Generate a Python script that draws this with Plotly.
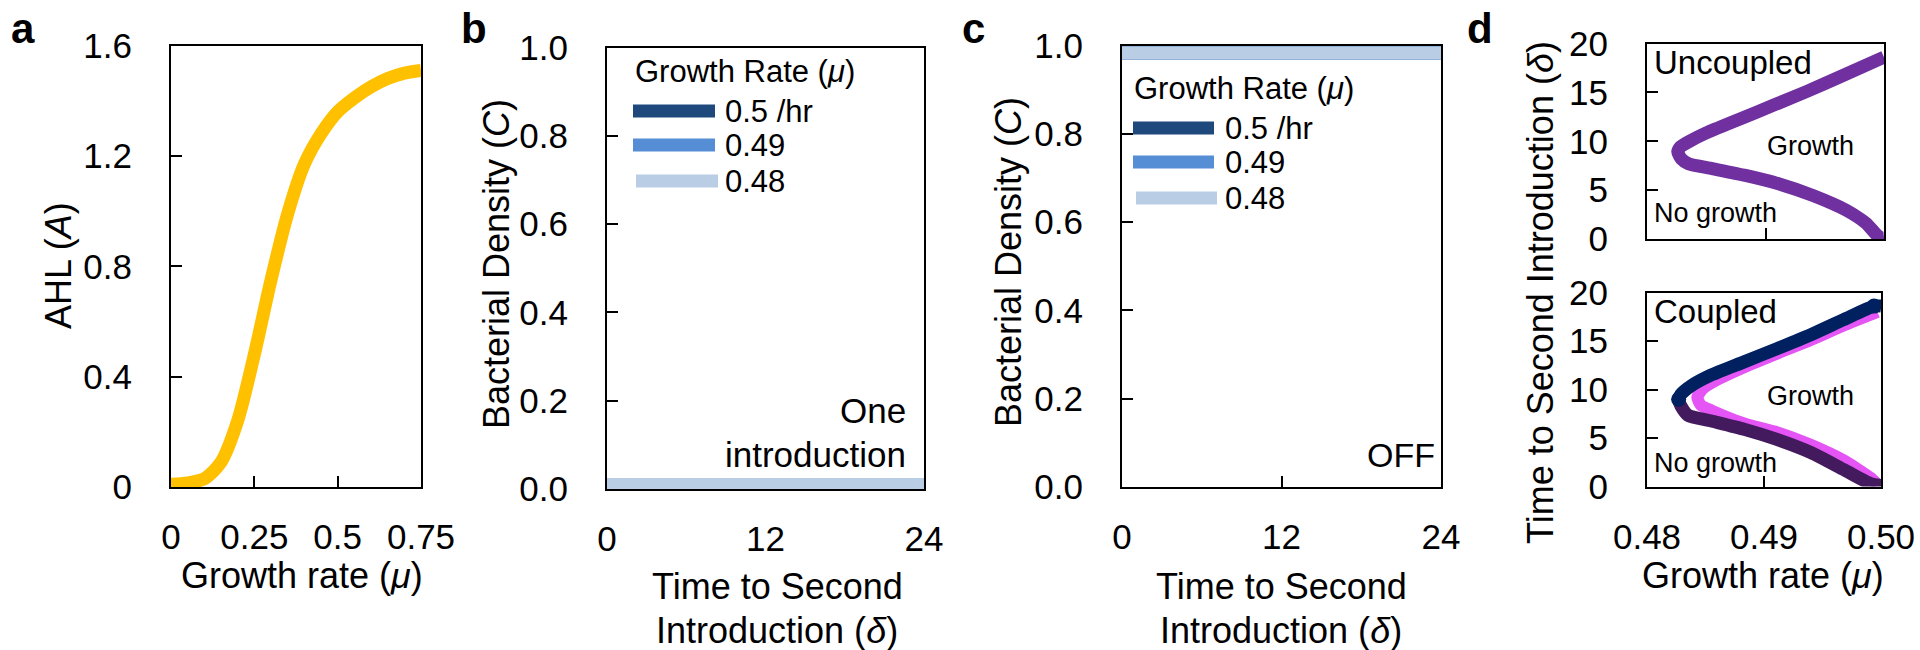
import plotly.graph_objects as go

FONT = "Arial, 'Liberation Sans', Helvetica, sans-serif"
W, H = 1920, 650

# ---------------- data ----------------
# panel a: AHL vs growth rate
mu_a = [0, 0.05, 0.1, 0.15, 0.2, 0.25, 0.3, 0.35, 0.4, 0.45, 0.5, 0.55, 0.6, 0.65, 0.7, 0.75]
ahl_a = [0.01, 0.015, 0.03, 0.09, 0.24, 0.48, 0.75, 0.99, 1.17, 1.28, 1.36, 1.41, 1.45, 1.48, 1.50, 1.51]

# panels b, c: bacterial density vs time to second introduction
delta_bc = [0, 6, 12, 18, 24]
growth_labels = ["0.5 /hr", "0.49", "0.48"]
growth_colors = ["#1F497D", "#558ED5", "#B9CDE5"]
density_b = {
    "0.5 /hr": [0.01, 0.01, 0.01, 0.01, 0.01],
    "0.49": [0.01, 0.01, 0.01, 0.01, 0.01],
    "0.48": [0.01, 0.01, 0.01, 0.01, 0.01],
}
density_c = {
    "0.5 /hr": [0.983, 0.983, 0.983, 0.983, 0.983],
    "0.49": [0.983, 0.983, 0.983, 0.983, 0.983],
    "0.48": [0.983, 0.983, 0.983, 0.983, 0.983],
}

# panel d: boundary curves (growth rate, time to second introduction)
unc_mu = [0.5000, 0.4963, 0.4935, 0.4907, 0.4879, 0.4850, 0.4836, 0.4828, 0.4826, 0.4829,
          0.4835, 0.4855, 0.4883, 0.4911, 0.4940, 0.4968, 0.4985, 0.4994, 0.4998, 0.5000]
unc_delta = [18.6, 16.6, 15.1, 13.7, 12.3, 10.85, 10.0, 9.4, 8.9, 8.2,
             7.7, 7.2, 6.5, 5.65, 4.45, 2.95, 1.6, 0.4, 0.1, 0.1]

cpl_mag_mu = [0.4997, 0.4968, 0.4940, 0.4911, 0.4883, 0.4860, 0.4848, 0.4843, 0.4846, 0.4855,
              0.4883, 0.4911, 0.4940, 0.4968, 0.4991, 0.4997]
cpl_mag_delta = [18.0, 16.6, 15.1, 13.7, 12.3, 11.0, 10.1, 9.2, 8.4, 7.85,
                 6.5, 5.6, 4.3, 2.7, 0.9, 0.2]

cpl_up_mu = [0.5000, 0.4994, 0.4968, 0.4940, 0.4911, 0.4883, 0.4855, 0.4838, 0.4829, 0.4827]
cpl_up_delta = [18.6, 18.6, 17.2, 15.65, 14.2, 12.85, 11.5, 10.4, 9.5, 9.0]

cpl_lo_mu = [0.4827, 0.4829, 0.4835, 0.4855, 0.4883, 0.4911, 0.4940, 0.4968, 0.4991, 0.5000]
cpl_lo_delta = [8.9, 8.3, 7.35, 6.75, 5.9, 4.85, 3.5, 1.75, 0.3, 0.1]

# tick labels
a_xticks = [0, 0.25, 0.5, 0.75]
a_xtext = ["0", "0.25", "0.5", "0.75"]
a_yticks = [0, 0.4, 0.8, 1.2, 1.6]
a_ytext = ["0", "0.4", "0.8", "1.2", "1.6"]
bc_xticks = [0, 12, 24]
bc_yticks = [0, 0.2, 0.4, 0.6, 0.8, 1.0]
bc_ytext = ["0.0", "0.2", "0.4", "0.6", "0.8", "1.0"]
d_xticks = [0.48, 0.49, 0.50]
d_xtext = ["0.48", "0.49", "0.50"]
d_yticks = [0, 5, 10, 15, 20]


def X(px):
    return px / W


def Y(py):
    return 1 - py / H


fig = go.Figure()

# panel a
fig.add_trace(go.Scatter(x=mu_a, y=ahl_a, mode="lines", line=dict(color="#FFC000", width=13, shape="spline", smoothing=0.8),
                         xaxis="x", yaxis="y", showlegend=False))
# panel b
for lab, col in zip(growth_labels, growth_colors):
    fig.add_trace(go.Scatter(x=delta_bc, y=density_b[lab], mode="lines", line=dict(color=col, width=13),
                             xaxis="x2", yaxis="y2", showlegend=False))
# panel c
for lab, col in zip(growth_labels, growth_colors):
    fig.add_trace(go.Scatter(x=delta_bc, y=density_c[lab], mode="lines", line=dict(color=col, width=13),
                             xaxis="x3", yaxis="y3", showlegend=False))
# panel d top (uncoupled)
fig.add_trace(go.Scatter(x=unc_mu, y=unc_delta, mode="lines", line=dict(color="#7030A0", width=13, shape="spline", smoothing=0.6),
                         xaxis="x4", yaxis="y4", showlegend=False))
# panel d bottom (coupled)
fig.add_trace(go.Scatter(x=cpl_mag_mu, y=cpl_mag_delta, mode="lines", line=dict(color="#E555F5", width=12, shape="spline", smoothing=0.6),
                         xaxis="x5", yaxis="y5", showlegend=False))
fig.add_trace(go.Scatter(x=cpl_lo_mu, y=cpl_lo_delta, mode="lines", line=dict(color="#431A5E", width=13, shape="spline", smoothing=0.6),
                         xaxis="x5", yaxis="y5", showlegend=False))
fig.add_trace(go.Scatter(x=cpl_up_mu, y=cpl_up_delta, mode="lines", line=dict(color="#002060", width=13, shape="spline", smoothing=0.6),
                         xaxis="x5", yaxis="y5", showlegend=False))
fig.add_trace(go.Scatter(x=[cpl_up_mu[1], cpl_up_mu[-1]], y=[cpl_up_delta[1], cpl_up_delta[-1]], mode="markers",
                         marker=dict(color="#002060", size=15), cliponaxis=False,
                         xaxis="x5", yaxis="y5", showlegend=False))

TICKFONT = dict(family=FONT, size=35, color="black")


def axis(domain, rng, tickvals, ticktext=None, anchor=None, labels=True, standoff=0, **kw):
    d = dict(domain=domain, range=rng, tickvals=tickvals, showline=True, linecolor="black", linewidth=2,
             mirror=True, ticks="inside", ticklen=11, tickwidth=2, tickcolor="black", showgrid=False,
             zeroline=False, tickfont=TICKFONT, layer="below traces", fixedrange=True, automargin=False,
             showticklabels=labels, anchor=anchor, ticklabelstandoff=standoff)
    if ticktext is not None:
        d["ticktext"] = ticktext
    d.update(kw)
    return d


XS, YS = 18, 30
layout = dict(
    width=W, height=H, margin=dict(l=0, r=0, t=0, b=0, pad=0, autoexpand=False),
    paper_bgcolor="white", plot_bgcolor="white",
    font=dict(family=FONT, color="black"),
    xaxis=axis([X(171), X(421)], [0, 0.75], a_xticks, a_xtext, anchor="y", standoff=XS),
    yaxis=axis([Y(487), Y(45.5)], [0, 1.6], a_yticks, a_ytext, anchor="x", standoff=YS),
    xaxis2=axis([X(607), X(924)], [0, 24], bc_xticks, anchor="y2", standoff=XS),
    yaxis2=axis([Y(489), Y(47.5)], [0, 1], bc_yticks, bc_ytext, anchor="x2", standoff=YS),
    xaxis3=axis([X(1122), X(1441)], [0, 24], bc_xticks, anchor="y3", standoff=XS),
    yaxis3=axis([Y(487), Y(45.5)], [0, 1], bc_yticks, bc_ytext, anchor="x3", standoff=YS),
    xaxis4=axis([X(1647), X(1884)], [0.48, 0.50], d_xticks, d_xtext, anchor="y4", labels=False),
    yaxis4=axis([Y(239), Y(43.5)], [0, 20], d_yticks, anchor="x4", standoff=YS),
    xaxis5=axis([X(1647), X(1881)], [0.48, 0.50], d_xticks, d_xtext, anchor="y5", standoff=XS),
    yaxis5=axis([Y(486.5), Y(292.5)], [0, 20], d_yticks, anchor="x5", standoff=YS),
)
fig.update_layout(**layout)

ann = []


def text(s, x, y, size, xanchor="center", yanchor="middle", angle=0, bold=False):
    ann.append(dict(text=(f"<b>{s}</b>" if bold else s), x=X(x), y=Y(y), xref="paper", yref="paper",
                    xanchor=xanchor, yanchor=yanchor, showarrow=False, textangle=angle,
                    font=dict(family=FONT, size=size, color="black")))


# panel letters
text("a", 9, 28, 42, xanchor="left", bold=True)
text("b", 459, 28, 42, xanchor="left", bold=True)
text("c", 960, 28, 42, xanchor="left", bold=True)
text("d", 1465, 28, 42, xanchor="left", bold=True)

# axis titles
text("AHL (<i>A</i>)", 58, 266, 36, angle=-90)
text("Growth rate (<i>μ</i>)", 302, 575, 36)
text("Bacterial Density (<i>C</i>)", 497, 264, 36, angle=-90)
text("Time to Second", 777, 586, 36)
text("Introduction (<i>δ</i>)", 777, 630, 36)
text("Bacterial Density (<i>C</i>)", 1008, 262, 36, angle=-90)
text("Time to Second", 1281, 586, 36)
text("Introduction (<i>δ</i>)", 1281, 630, 36)
text("Time to Second Introduction (<i>δ</i>)", 1540, 293, 36, angle=-90)
text("Growth rate (<i>μ</i>)", 1763, 575, 36)

# in-panel annotations
text("One", 908, 410, 35, xanchor="right")
text("introduction", 908, 454, 35, xanchor="right")
text("OFF", 1437, 455, 34, xanchor="right")
text("Uncoupled", 1652, 63, 33, xanchor="left")
text("Growth", 1810, 146, 27)
text("No growth", 1652, 213, 27, xanchor="left")
text("Coupled", 1652, 311, 33, xanchor="left")
text("Growth", 1810, 396, 27)
text("No growth", 1652, 463, 27, xanchor="left")

# legends (panels b and c)
shapes = []
for (tx, ty, sx0, sx1, sys, lx) in [(633, 71, 633, 715, [111, 145, 181], 723),
                                   (1132, 88, 1133, 1214, [128, 162, 198], 1223)]:
    text("Growth Rate (<i>μ</i>)", tx, ty, 31, xanchor="left")
    for i, (lab, col) in enumerate(zip(growth_labels, growth_colors)):
        off = 3 if i == 2 else 0
        shapes.append(dict(type="line", xref="paper", yref="paper", x0=X(sx0 + off), x1=X(sx1 + off),
                           y0=Y(sys[i]), y1=Y(sys[i]), line=dict(color=col, width=13)))
        text(lab, lx, sys[i], 31, xanchor="left")

fig.update_layout(annotations=ann, shapes=shapes)
fig.write_html("out.html")
